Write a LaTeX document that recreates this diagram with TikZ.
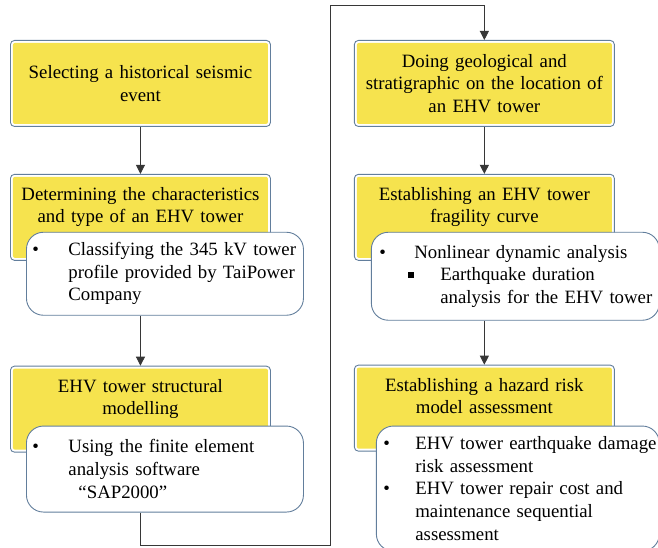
\documentclass[tikz,border=0pt]{standalone}
\usepackage{fontspec}
\setmainfont{Liberation Serif}
\usetikzlibrary{%
	positioning,
	arrows.meta
}
\definecolor{stagefill}{RGB}{246,227,78}
\definecolor{edgeblue}{RGB}{98,126,156}
\definecolor{flowgray}{RGB}{55,55,55}

\begin{document}
\begin{tikzpicture}[
		stage/.style={draw=edgeblue,line width=0.9pt,rounded corners=4pt,fill=white,
			path picture={\fill[stagefill,rounded corners=2pt] ([shift={(2.5pt,2.5pt)}]path picture bounding box.south west) rectangle ([shift={(-2.5pt,-2.5pt)}]path picture bounding box.north east);},
			font=\fontsize{18.8}{22.6}\selectfont,text width=250pt,align=center,inner xsep=5pt,minimum height=86pt},
		stagetop/.style={stage,inner ysep=13pt,text height=13pt,text depth=47pt},
		note/.style={draw=edgeblue,line width=0.9pt,rounded corners=17pt,fill=white,font=\fontsize{18.8}{22.6}\selectfont,align=left,inner ysep=4pt},
		flow/.style={draw=flowgray,line width=0.9pt,-{Triangle[length=9pt,width=9pt]}}
	]
	\useasboundingbox (0pt,0pt) rectangle (658pt,-548pt);
	
	%left column
	\node (yel1) [stage, anchor=north west] at (10pt,-40pt) {Selecting a historical seismic\\event};
	\node (yel2) [stagetop, below=47pt of yel1] {Determining the characteristics\\and type of an EHV tower};
	\node (note2) [note, text width=265pt, inner xsep=6pt, minimum height=83pt, below right=-29pt and 16pt of yel2.south west, anchor=north west]
		{\mbox{\makebox[36pt][l]{\textbullet}Classifying the 345 kV tower}\\\mbox{\hspace*{36pt}profile provided by TaiPower}\\\mbox{\hspace*{36pt}Company}};
	\node (yel3) [stagetop, below right=50pt and -16pt of note2.south west] {EHV tower structural\\modelling};
	\node (note3) [note, text width=265pt, inner xsep=6pt, minimum height=86pt, below right=-27pt and 16pt of yel3.south west, anchor=north west]
		{\mbox{\makebox[36pt][l]{\textbullet}Using the finite element}\\\mbox{\hspace*{36pt}analysis software}\\\mbox{\hspace*{46pt}“SAP2000”}};
	
	%right column
	\node (yel4) [stage, right=83pt of yel1.north east, anchor=north west] {Doing geological and\\stratigraphic on the location of\\an EHV tower};
	\node (yel5) [stagetop, below=47pt of yel4] {Establishing an EHV tower\\fragility curve};
	\node (note5) [note, text width=272pt, inner xsep=8pt, minimum height=88pt, below right=-29pt and 17pt of yel5.south west, anchor=north west]
		{\mbox{\makebox[35pt][l]{\textbullet}Nonlinear dynamic analysis}\\\mbox{\hspace*{29pt}\makebox[32pt][l]{\rule[3pt]{5.5pt}{5.5pt}}Earthquake duration}\\\mbox{\hspace*{61pt}analysis for the EHV tower}};
	\node (yel6) [stagetop, below right=44pt and -17pt of note5.south west] {Establishing a hazard risk\\model assessment};
	\node (note6) [note, text width=269pt, inner xsep=7pt, minimum height=125pt, below right=-26pt and 22pt of yel6.south west, anchor=north west]
		{\mbox{\makebox[32pt][l]{\textbullet}EHV tower earthquake damage}\\\mbox{\hspace*{32pt}risk assessment}\\\mbox{\makebox[32pt][l]{\textbullet}EHV tower repair cost and}\\\mbox{\hspace*{32pt}maintenance sequential}\\\mbox{\hspace*{32pt}assessment}};
	
	%connectors
	\coordinate (lowturn) at (330pt,-545pt);
	\coordinate (highturn) at (330pt,-5pt);
	\draw [flow] (yel1) -- (yel2);
	\draw [flow] (note2.south -| yel3.north) -- (yel3.north);
	\draw [flow] (note3.south -| yel3.south) |- (lowturn) -- (highturn) -| (yel4.north);
	\draw [flow] (yel4) -- (yel5);
	\draw [flow] (note5.south -| yel6.north) -- (yel6.north);
	
\end{tikzpicture}
\end{document}
